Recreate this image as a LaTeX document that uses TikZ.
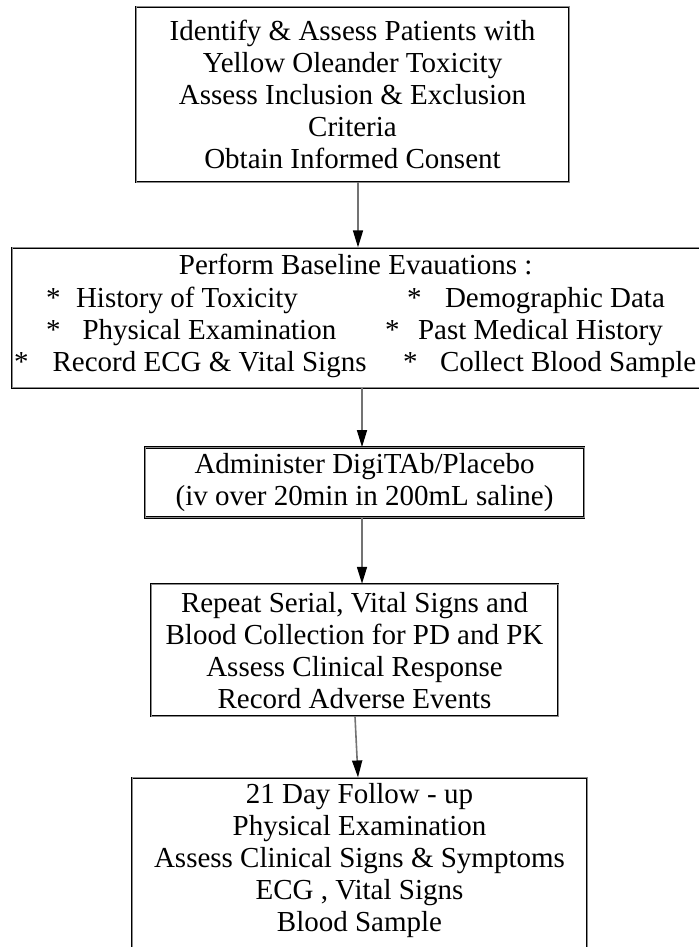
\documentclass[tikz,border=0pt]{standalone}
\usepackage{fontspec}
\setmainfont{Liberation Serif}
\usetikzlibrary{positioning,calc,arrows.meta}

\tikzset{
  stepbox/.style={draw=black, double=black!45, double distance=0.5pt, line width=0.35pt,
    align=center, inner sep=0pt, font=\fontsize{14.5}{16}\selectfont},
  entry/.style={anchor=base west, inner sep=0pt, font=\fontsize{14.5}{16}\selectfont},
  flow/.style={draw=black!55, line width=0.8pt, -{Triangle[length=8.5pt,width=5pt,color=black]}}
}

\begin{document}
\begin{tikzpicture}[x=0.5pt,y=-0.5pt]
  \useasboundingbox (0,0) rectangle (699,947);
  \node[stepbox, minimum width=216.5pt, minimum height=87.5pt] (box1) at (352.5,94.5)
    {Identify \& Assess Patients with\\Yellow Oleander Toxicity\\Assess Inclusion \& Exclusion\\Criteria\\Obtain Informed Consent};
  \node[stepbox, minimum width=348pt, minimum height=70pt, below=32.5pt of box1, xshift=3.75pt] (box2) {};
  \node[entry, anchor=base] (title) at ($(box2.north west)+(344,27)$) {Perform Baseline Evauations :};
  \node[entry] (hist) at ($(box2.north west)+(34,60)$) {*\hspace{7.75pt}History of Toxicity};
  \node[entry] (demo) at ($(box2.north west)+(395,60)$) {*\hspace{11.75pt}Demographic Data};
  \node[entry] (phys) at ($(box2.north west)+(34,92)$) {*\hspace{11pt}Physical Examination};
  \node[entry] (past) at ($(box2.north west)+(373,92)$) {*\hspace{9.25pt}Past Medical History};
  \node[entry] (ecg) at ($(box2.north west)+(2,124)$) {*\hspace{12pt}Record ECG \& Vital Signs};
  \node[entry] (blood) at ($(box2.north west)+(391,124)$) {*\hspace{11.25pt}Collect Blood Sample};
  \node[stepbox, minimum width=219.5pt, minimum height=35pt, below=29.5pt of box2, xshift=2.25pt] (box3)
    {Administer DigiTAb/Placebo\\(iv over 20min in 200mL saline)};
  \node[stepbox, minimum width=203.5pt, minimum height=66pt, below=33pt of box3, xshift=-5pt] (box4)
    {Repeat Serial, Vital Signs and\\Blood Collection for PD and PK\\Assess Clinical Response\\Record Adverse Events};
  \node[stepbox, minimum width=227.5pt, inner ysep=3pt, text depth=12pt, below=30.5pt of box4, xshift=2.5pt] (box5)
    {21 Day Follow - up\\Physical Examination\\Assess Clinical Signs \& Symptoms\\ECG , Vital Signs\\Blood Sample};
  \draw[flow] ([xshift=2.75pt]box1.south) -- ([xshift=-1pt]box2.north);
  \draw[flow] ([xshift=1pt]box2.south) -- ([xshift=-1.25pt]box3.north);
  \draw[flow] ([xshift=-1.25pt]box3.south) -- ([xshift=3.75pt]box4.north);
  \draw[flow] ([xshift=0.25pt]box4.south) -- ([xshift=-0.75pt]box5.north);
\end{tikzpicture}
\end{document}
